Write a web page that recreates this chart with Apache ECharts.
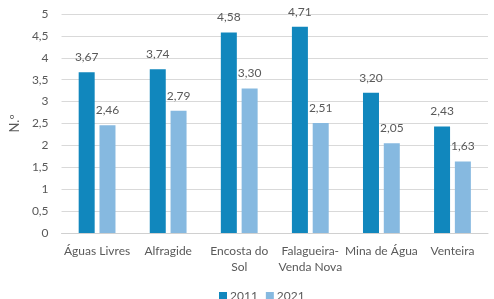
<!DOCTYPE html>
<html>
<head>
<meta charset="utf-8">
<script src="https://cdn.jsdelivr.net/npm/echarts@6/dist/echarts.min.js"></script>
<style>
  html, body { margin: 0; padding: 0; background: #fff; }
  #main { width: 494px; height: 299px; }
</style>
</head>
<body>
<div id="main"></div>
<script>
var categories = ['Águas Livres', 'Alfragide', 'Encosta do\nSol', 'Falagueira-\nVenda Nova', 'Mina de Água', 'Venteira'];
var values2011 = [3.67, 3.74, 4.58, 4.71, 3.20, 2.43];
var values2021 = [2.46, 2.79, 3.30, 2.51, 2.05, 1.63];
var seriesNames = ['2011', '2021'];

var chart = echarts.init(document.getElementById('main'), null, { renderer: 'canvas' });

function fmt(v) {
  return v.toFixed(2).replace('.', ',');
}

var labelStyle = {
  show: true,
  position: 'top',
  distance: 9,
  color: '#595959',
  fontSize: 12,
  fontFamily: 'Lato',
  formatter: function (p) { return fmt(p.value); }
};

var option = {
  animation: false,
  backgroundColor: '#fff',
  textStyle: { fontFamily: 'Lato' },
  grid: {
    left: 61,
    right: 6,
    top: 14,
    bottom: 66
  },
  legend: {
    data: seriesNames,
    left: 214,
    top: 285,
    itemWidth: 8,
    itemHeight: 8,
    itemGap: 8,
    icon: 'rect',
    textStyle: { color: '#595959', fontSize: 12, fontFamily: 'Lato', padding: [0, 0, 0, -2] }
  },
  xAxis: {
    type: 'category',
    data: categories,
    axisTick: { show: false },
    axisLine: { lineStyle: { color: '#d0d0d0' } },
    axisLabel: {
      color: '#595959',
      fontSize: 12,
      fontFamily: 'Lato',
      interval: 0,
      margin: 10,
      lineHeight: 16
    }
  },
  yAxis: {
    type: 'value',
    min: 0,
    max: 5,
    interval: 0.5,
    name: 'N.º',
    nameLocation: 'middle',
    nameGap: 32,
    nameRotate: 90,
    nameTextStyle: { color: '#595959', fontSize: 13, fontFamily: 'Lato' },
    axisLine: { show: false },
    axisTick: { show: false },
    axisLabel: {
      color: '#595959',
      fontSize: 12,
      fontFamily: 'Lato',
      margin: 13,
      formatter: function (v) { return String(v).replace('.', ','); }
    },
    splitLine: { lineStyle: { color: '#d9d9d9' } }
  },
  series: [
    {
      name: seriesNames[0],
      type: 'bar',
      data: values2011,
      barWidth: 16,
      barGap: '30%',
      itemStyle: { color: '#1187bd' },
      label: labelStyle
    },
    {
      name: seriesNames[1],
      type: 'bar',
      data: values2021,
      barWidth: 16,
      itemStyle: { color: '#86b9e0' },
      label: labelStyle
    }
  ]
};

chart.setOption(option);
</script>
</body>
</html>
